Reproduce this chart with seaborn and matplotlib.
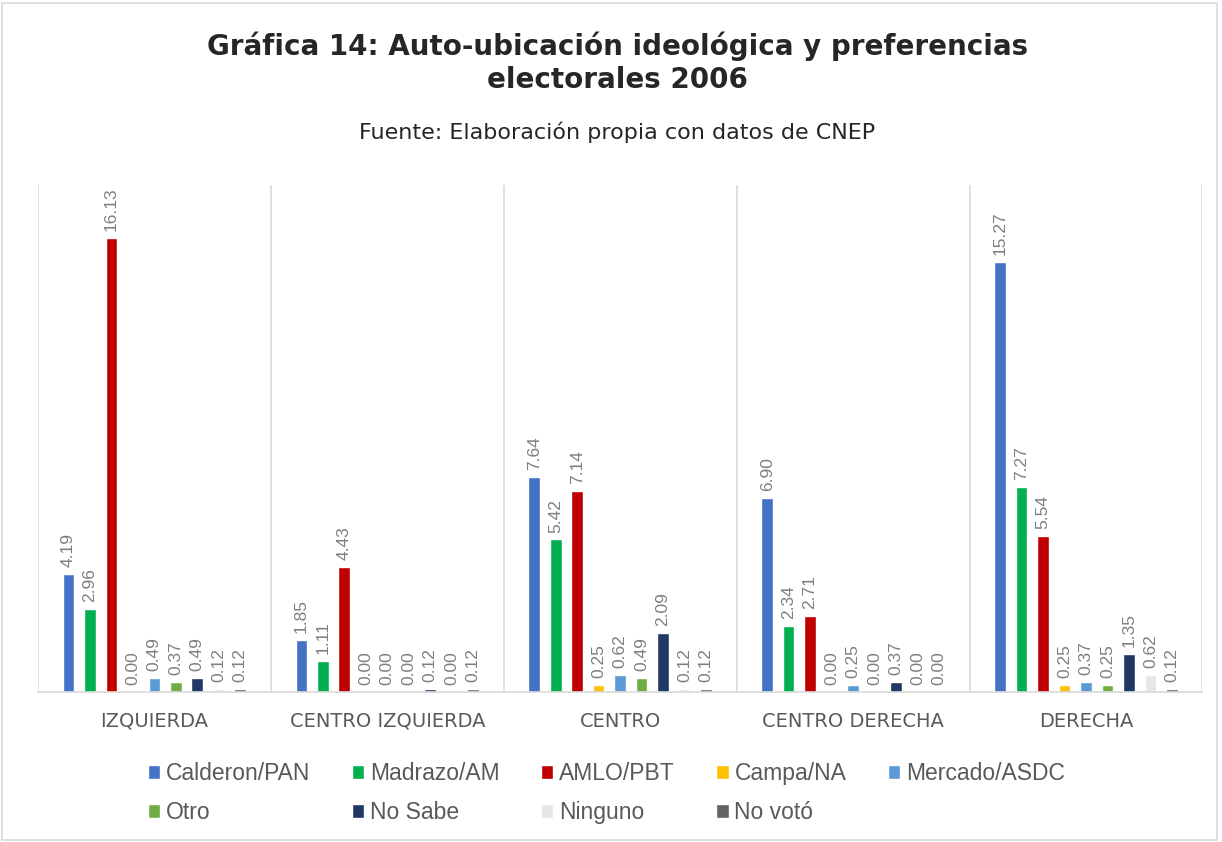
import numpy as np
import pandas as pd
import matplotlib.pyplot as plt
import seaborn as sns
from matplotlib.patches import Rectangle

categorias = ["IZQUIERDA", "CENTRO IZQUIERDA", "CENTRO", "CENTRO DERECHA", "DERECHA"]
series = ["Calderon/PAN", "Madrazo/AM", "AMLO/PBT", "Campa/NA", "Mercado/ASDC",
          "Otro", "No Sabe", "Ninguno", "No votó"]

calderon = [4.19, 1.85, 7.64, 6.90, 15.27]
madrazo = [2.96, 1.11, 5.42, 2.34, 7.27]
amlo = [16.13, 4.43, 7.14, 2.71, 5.54]
campa = [0.00, 0.00, 0.25, 0.00, 0.25]
mercado = [0.49, 0.00, 0.62, 0.25, 0.37]
otro = [0.37, 0.00, 0.49, 0.00, 0.25]
no_sabe = [0.49, 0.12, 2.09, 0.37, 1.35]
ninguno = [0.12, 0.00, 0.12, 0.00, 0.62]
no_voto = [0.12, 0.12, 0.12, 0.00, 0.12]

colores = ["#4472C4", "#00B050", "#C00000", "#FFC000", "#5B9BD5",
           "#70AD47", "#203864", "#E7E6E6", "#636363"]

valores = [calderon, madrazo, amlo, campa, mercado, otro, no_sabe, ninguno, no_voto]
rows = []
for s, vals in zip(series, valores):
    for c, v in zip(categorias, vals):
        rows.append({"Ideologia": c, "Candidato": s, "Porcentaje": v})
df = pd.DataFrame(rows)

sns.set_style("white")
plt.rcParams["font.family"] = ["Liberation Sans", "DejaVu Sans"]

fig = plt.figure(figsize=(12.22, 8.42), dpi=100)
ax = fig.add_axes([0.031, 0.178, 0.953, 0.602])

sns.barplot(data=df, x="Ideologia", y="Porcentaje", hue="Candidato",
            order=categorias, hue_order=series, palette=colores,
            saturation=1, width=0.83, gap=0.46, ax=ax, legend=True)

for cont in ax.containers:
    ax.bar_label(cont, fmt="%.2f", rotation=90, padding=5,
                 color="#7F7F7F", fontsize=12.5)

ax.set_ylim(0, 18)
ax.set_xlim(-0.5, 4.5)
ax.set_yticks([])
ax.set_xlabel("")
ax.set_ylabel("")
for sp in ["top", "right", "left"]:
    ax.spines[sp].set_visible(False)
ax.spines["bottom"].set_color("#D9D9D9")
ax.spines["bottom"].set_linewidth(1.2)

# separadores verticales entre categorías
for b in np.arange(-0.5, 5.0, 1.0):
    ax.axvline(b, color="#D9D9D9", lw=1.2, zorder=0)

ax.set_xticks(range(len(categorias)))
ax.set_xticklabels(categorias, color="#595959", fontsize=14,
                   family=["DejaVu Sans"])
ax.tick_params(axis="x", length=0, pad=14)

# leyenda en orden por filas
handles, labels = ax.get_legend_handles_labels()
ax.get_legend().remove()
orden = [0, 5, 1, 6, 2, 7, 3, 8, 4]
fig.legend([handles[i] for i in orden], [labels[i] for i in orden],
           ncol=5, loc="upper left",
           bbox_to_anchor=(0.104, 0.119), frameon=False,
           fontsize=16.5, labelcolor="#595959", handlelength=0.55,
           handleheight=0.55, handletextpad=0.25, columnspacing=1.8,
           labelspacing=0.7)

fig.text(0.505, 0.962, "Gráfica 14: Auto-ubicación ideológica y preferencias\nelectorales 2006",
         ha="center", va="top", fontsize=20, fontweight="bold",
         family=["DejaVu Sans"], linespacing=1.2)
fig.text(0.505, 0.843, "Fuente: Elaboración propia con datos de CNEP",
         ha="center", va="center", fontsize=16, family=["DejaVu Sans"])

fig.patches.append(Rectangle((0.002, 0.002), 0.994, 0.994, transform=fig.transFigure,
                             fill=False, edgecolor="#D9D9D9", lw=1.2))

fig.savefig("out.png", dpi=100)
